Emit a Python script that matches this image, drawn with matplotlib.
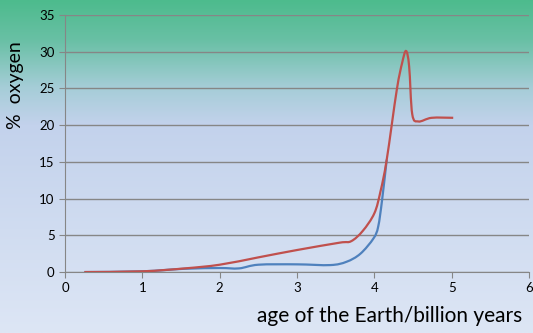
import numpy as np
import matplotlib
matplotlib.use("Agg")
import matplotlib.pyplot as plt
from matplotlib.path import Path
from matplotlib.patches import PathPatch
from matplotlib.colors import LinearSegmentedColormap

# values (age in billion years, % oxygen)
red_x = [0.25, 1.0, 1.55, 2.0, 2.5, 3.0, 3.55, 3.7, 3.85, 4.0, 4.08, 4.16, 4.29, 4.36, 4.41, 4.45, 4.49, 4.57, 4.74, 5.02]
red_y = [0.0, 0.1, 0.5, 1.0, 2.0, 3.0, 4.0, 4.2, 5.6, 8.0, 11.0, 15.3, 24.8, 28.5, 30.1, 28.0, 21.5, 20.5, 21.0, 21.0]
blue_x = [0.25, 1.0, 1.55, 2.0, 2.25, 2.5, 3.0, 3.43, 3.64, 3.82, 3.99, 4.05, 4.10, 4.16]
blue_y = [0.0, 0.1, 0.45, 0.55, 0.5, 1.0, 1.05, 0.95, 1.4, 2.5, 4.6, 6.2, 9.8, 15.3]

xticks = [0, 1, 2, 3, 4, 5, 6]
yticks = [0, 5, 10, 15, 20, 25, 30, 35]


def smooth_path(xs, ys):
    # catmull-rom through the points, as bezier segments (like a smoothed line)
    p = np.column_stack([xs, ys]).astype(float)
    verts = [p[0]]
    codes = [Path.MOVETO]
    n = len(p)
    for i in range(n - 1):
        p0 = p[i - 1] if i > 0 else p[i]
        p3 = p[i + 2] if i + 2 < n else p[i + 1]
        c1 = p[i] + (p[i + 1] - p0) / 6.0
        c2 = p[i + 1] - (p3 - p[i]) / 6.0
        verts += [c1, c2, p[i + 1]]
        codes += [Path.CURVE4] * 3
    return Path(verts, codes)


fig = plt.figure(figsize=(5.33, 3.33), dpi=100)

# background gradient over the whole figure
bg = fig.add_axes([0, 0, 1, 1], zorder=-1)
cmap = LinearSegmentedColormap.from_list("bg", [
    (0.0, "#4dbb8d"), (0.12, "#69c0a5"), (0.26, "#a5cdd7"),
    (0.375, "#c3d2ec"), (1.0, "#dde6f5")])
bg.imshow(np.linspace(0, 1, 256)[:, None], aspect="auto", cmap=cmap,
          extent=[0, 1, 1, 0])
bg.axis("off")

ax = fig.add_axes([0.122, 0.183, 0.8705, 0.772])
ax.patch.set_visible(False)
ax.set_xlim(0, 6)
ax.set_ylim(0, 35)
ax.set_xticks(xticks)
ax.set_yticks(yticks)
ax.yaxis.grid(True, color="#868686", lw=1.0)
ax.set_axisbelow(True)
for s in ["top", "right"]:
    ax.spines[s].set_visible(False)
for s in ["left", "bottom"]:
    ax.spines[s].set_color("#868686")
ax.tick_params(colors="#868686", labelcolor="black", labelsize=9.5, length=4)
for lab in ax.get_xticklabels() + ax.get_yticklabels():
    lab.set_family("Lato")

ax.add_patch(PathPatch(smooth_path(blue_x, blue_y), fill=False,
                       ec="#4f81bd", lw=1.6, zorder=3))
ax.add_patch(PathPatch(smooth_path(red_x, red_y), fill=False,
                       ec="#c0504d", lw=1.6, zorder=4))

fig.text(0.03, 0.745, "%  oxygen", rotation=90, ha="center", va="center",
         fontsize=14, family="Lato")
fig.text(0.98, 0.022, "age of the Earth/billion years", ha="right",
         va="bottom", fontsize=15, family="Lato")

fig.savefig("out.png", dpi=100)
